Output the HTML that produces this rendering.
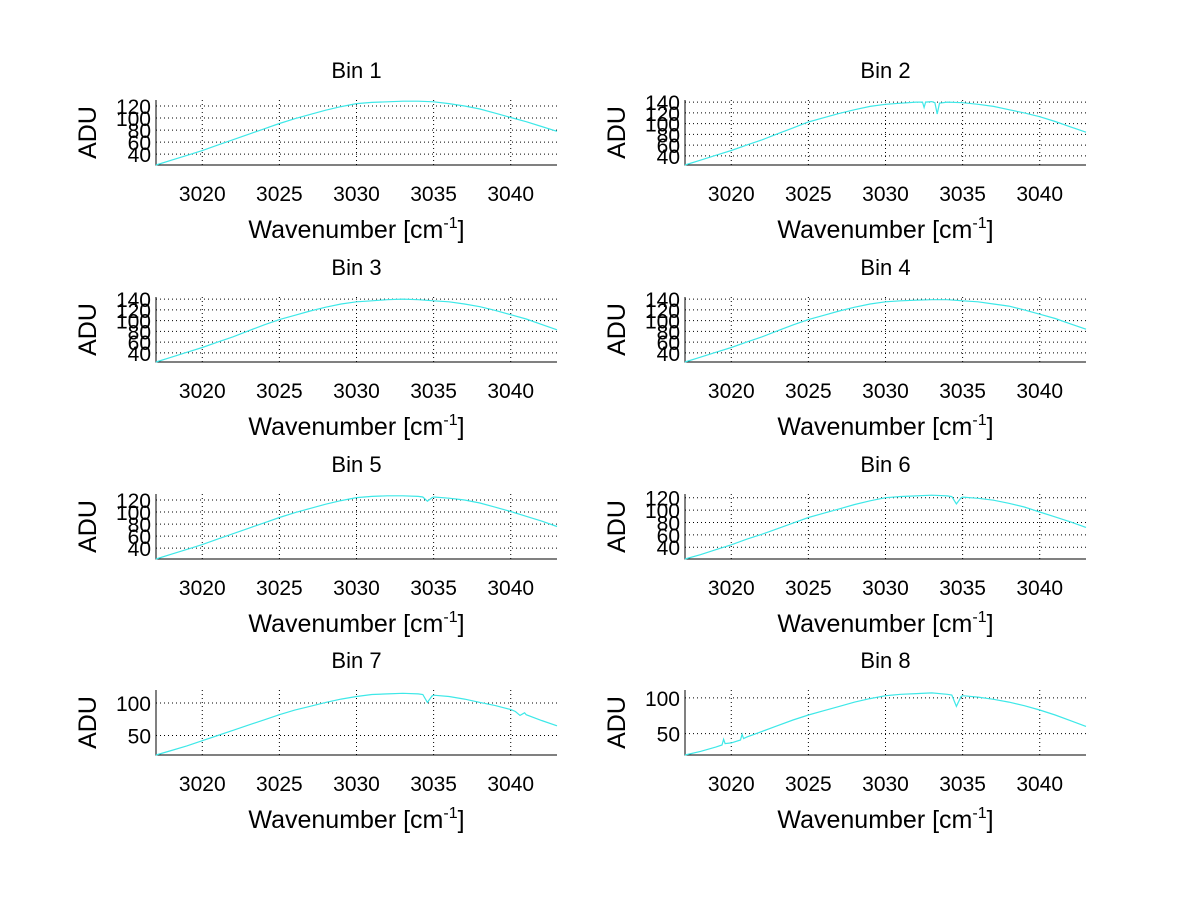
<!DOCTYPE html>
<html><head><meta charset="utf-8">
<style>
body{margin:0;background:#fff;}
svg text{font-family:"Liberation Sans",sans-serif;fill:#000;}
</style></head>
<body>
<svg id="fig" width="1200" height="901" xmlns="http://www.w3.org/2000/svg">
<rect width="1200" height="901" fill="#fff"/>
</svg>
<script>
const xTicks=[3020,3025,3030,3035,3040];
const xMin=3017, xMax=3043;
const xs=[3017,3018,3019,3020,3021,3022,3023,3024,3025,3026,3027,3028,3029,3030,3031,3032,3033,3034,3035,3036,3037,3038,3039,3040,3041,3042,3043];
const bin1=[22,30,38,46,55,64,73,82,91,99,106,113,119,124,126,127,128,128,127,124,120,115,108,101,94,86,78];
const bin2=[23,32,41,50,60,70,81,92,103,111,119,126,132,136,138,140,141,140,139,136,132,126,120,113,104,94,84];
const bin3=[23,32,41,50,60,70,81,92,102,110,118,125,131,135,137,139,140,139,137,135,131,126,119,111,103,93,83];
const bin4=[23,32,41,50,60,70,81,92,102,110,118,125,131,135,137,138,139,139,137,135,131,127,120,112,104,94,84];
const bin5=[22,30,38,46,55,64,73,82,91,99,106,113,119,124,126,127,127,126,125,123,120,115,108,101,93,85,76];
const bin6=[21,28,36,44,53,61,70,79,88,95,102,109,115,120,122,123,124,123,121,119,116,111,105,97,89,81,72];
const bin7=[20,27,34,42,50,58,66,74,82,89,95,101,106,110,113,114,115,114,112,110,106,101,96,90,82,73,65];
const bin8=[20,25,31,37,45,53,61,69,76,82,88,94,99,103,105,106,107,105,103,101,98,94,89,83,76,68,60];
const dips2=[[3033.2,139],[3033.35,118],[3033.5,138],[3032.4,140],[3032.5,130],[3032.6,140]];
const dips5=[[3034.3,125],[3034.6,118],[3034.9,124]];
const dips6=[[3034.3,122],[3034.6,110],[3034.9,120]];
const dips7=[[3034.3,113],[3034.6,101],[3034.9,111],[3040.3,87],[3040.6,81],[3040.9,85]];
const dips8=[[3019.4,34],[3019.5,42],[3019.6,36],[3020.6,41],[3020.7,49],[3020.8,43],[3034.3,104],[3034.6,88],[3034.9,102]];
const bins=[
 {title:"Bin 1",y:bin1,d:[],ylim:[22,130],yt:[40,60,80,100,120]},
 {title:"Bin 2",y:bin2,d:dips2,ylim:[23,144],yt:[40,60,80,100,120,140]},
 {title:"Bin 3",y:bin3,d:[],ylim:[23,144],yt:[40,60,80,100,120,140]},
 {title:"Bin 4",y:bin4,d:[],ylim:[23,144],yt:[40,60,80,100,120,140]},
 {title:"Bin 5",y:bin5,d:dips5,ylim:[22,130],yt:[40,60,80,100,120]},
 {title:"Bin 6",y:bin6,d:dips6,ylim:[21,126],yt:[40,60,80,100,120]},
 {title:"Bin 7",y:bin7,d:dips7,ylim:[20,120],yt:[50,100]},
 {title:"Bin 8",y:bin8,d:dips8,ylim:[20,111],yt:[50,100]}
];
const NS="http://www.w3.org/2000/svg";
const svg=document.getElementById('fig');
function mk(tag,attrs,parent){const e=document.createElementNS(NS,tag);for(const k in attrs)e.setAttribute(k,attrs[k]);(parent||svg).appendChild(e);return e;}
const colL=[156,685], rowT=[100,297,494,690], H=65, W=401;
bins.forEach((b,i)=>{
  const L=colL[i%2], T=rowT[Math.floor(i/2)], B=T+H, R=L+W;
  const g=mk('g',{});
  
  
  const sx=v=>L+(v-xMin)/(xMax-xMin)*W;
  const sy=v=>B-(v-b.ylim[0])/(b.ylim[1]-b.ylim[0])*H;
  xTicks.forEach(t=>{
    const gl=mk('line',{x1:sx(t),x2:sx(t),y1:T,y2:B,stroke:'#000','stroke-width':1,'stroke-dasharray':'1,3'},g);
    
    
    const tl=mk('text',{x:sx(t),y:B+36,'font-size':21,'text-anchor':'middle'},g);
    tl.textContent=t;
    
    
  });
  b.yt.forEach(t=>{
    const gl=mk('line',{x1:L,x2:R,y1:sy(t),y2:sy(t),stroke:'#000','stroke-width':1,'stroke-dasharray':'1,3'},g);
    
    
    const tl=mk('text',{x:L-5,y:sy(t)+8,'font-size':21,'text-anchor':'end'},g);
    tl.textContent=t;
    
    
  });
  const ax=mk('path',{d:`M${L},${T}V${B}H${R}`,stroke:'#000','stroke-width':1,fill:'none'},g);
  
  
  const pts=xs.map((x,k)=>[x,b.y[k]]).concat(b.d).sort((a,c)=>a[0]-c[0]);
  const line=mk('polyline',{points:pts.map(p=>sx(p[0]).toFixed(1)+','+sy(p[1]).toFixed(1)).join(' '),fill:'none',stroke:'#3ee8e8','stroke-width':1.2},g);
  
  
  const ti=mk('text',{x:(L+R)/2,y:T-22,'font-size':22,'text-anchor':'middle'},g);
  ti.textContent=b.title;
  
  
  const yl=mk('text',{x:0,y:0,'font-size':25,'text-anchor':'middle',transform:`translate(${L-60},${(T+B)/2}) rotate(-90)`},g);
  yl.textContent='ADU';
  
  
  const xl=mk('text',{x:(L+R)/2,y:B+73,'font-size':25,'text-anchor':'middle'},g);
  xl.innerHTML='Wavenumber [cm<tspan dy="-10" font-size="16">-1</tspan><tspan dy="10">]</tspan>';
  
  
});
</script>
</body></html>
